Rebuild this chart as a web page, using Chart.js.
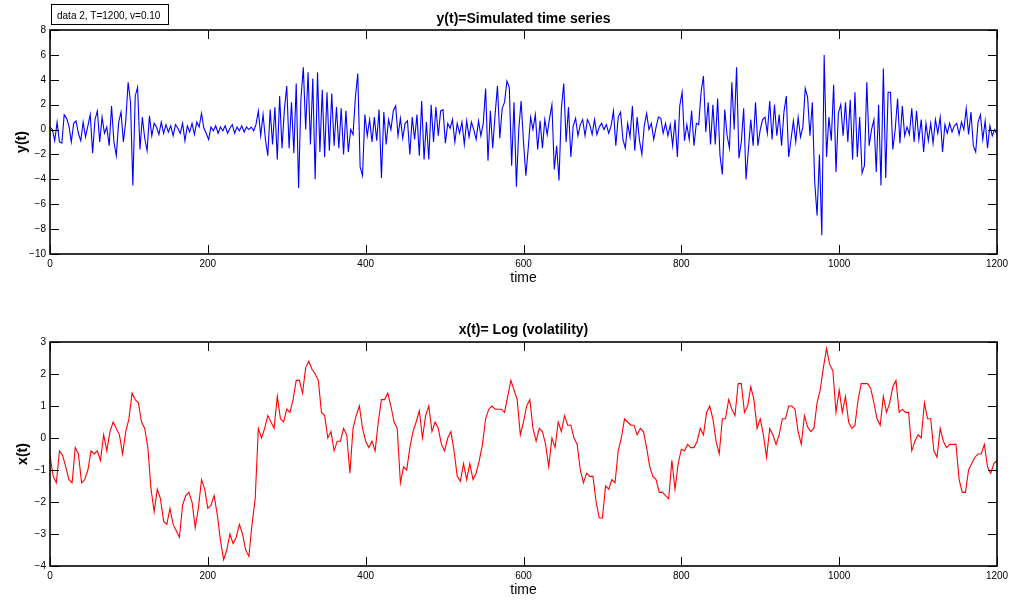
<!DOCTYPE html>
<html>
<head>
<meta charset="utf-8">
<script src="https://cdn.jsdelivr.net/npm/chart.js@4.4.1/dist/chart.umd.min.js"></script>
<style>
  body { margin: 0; background: #fff; }
  #wrap { position: relative; width: 1018px; height: 601px; }
  canvas { position: absolute; left: 0; }
</style>
</head>
<body>
<div id="wrap">
  <canvas id="topChart" width="1018" height="300" style="top:0px"></canvas>
  <canvas id="bottomChart" width="1018" height="301" style="top:300px"></canvas>
</div>
<script>
// sampling step (time units) of each series
const yStep = 3;
const xStep = 4;

// y(t) simulated returns, t = 0, 3, 6, ... 1200
const yValues = [
  0.2, 0.0, -0.9, 0.6, -1.0, -1.1, 1.2, 0.9, 0.3, -1.0,
  0.5, 0.7, -0.3, -0.9, 0.6, -0.6, 0.3, 1.2, -1.9, 0.8,
  1.5, -1.0, 1.0, -0.3, 0.2, -1.3, 1.9, -1.0, -2.1, 0.6,
  1.4, -1.0, 0.7, 3.8, 2.2, -4.5, 2.7, 3.4, -1.6, 1.0,
  -0.7, -1.7, 1.1, -0.5, 0.5, 0.2, -0.4, 0.6, -0.3, 0.4,
  -0.2, 0.3, -0.5, 0.4, 0.1, -0.3, 0.5, -0.9, 0.3, -0.2,
  0.5, -0.4, 0.6, 0.2, 1.3, 0.1, -0.3, -0.8, 0.2, -0.1,
  0.3, -0.3, 0.2, -0.1, 0.3, -0.3, 0.1, 0.4, -0.3, 0.2,
  -0.1, 0.3, -0.2, 0.2, 0.0, 0.2, -0.1, 0.4, 1.5, -0.5,
  1.2, -0.8, -2.1, 1.6, -1.2, 1.8, -2.4, 2.7, -1.5, 1.6,
  3.5, -1.5, 2.2, -1.9, 3.7, -4.7, 2.5, 5.0, 0.0, 4.6,
  -1.2, 4.1, -4.0, 4.6, -1.8, 3.2, -2.2, 3.0, -1.7, 2.9,
  -1.3, 1.8, -1.5, 1.7, -2.0, 1.5, -1.8, 0.0, -0.4, 2.6,
  4.5, -3.0, -3.7, 1.2, -0.5, 0.8, -1.0, 1.0, -0.9, 1.6,
  -3.9, 1.4, -1.2, 0.8, 0.0, 1.5, 1.9, -0.5, 0.9, -0.7,
  0.5, 0.7, -2.0, 1.0, -0.8, 1.2, -2.1, 2.3, -2.4, 0.6,
  -2.4, 2.0, -1.0, 1.8, -0.5, 1.5, 1.6, -1.1, 0.5, 0.1,
  0.8, -1.0, 0.5, -0.3, 0.6, -1.2, 0.7, -0.6, 0.6, 0.0,
  -0.8, 0.7, -0.5, 0.5, 3.3, -2.5, 1.5, -1.5, 1.2, 3.5,
  -0.7, 1.7, 2.2, 3.9, 3.4, -2.9, 2.2, -4.6, 0.0, 2.3,
  -1.0, -3.7, -1.5, 1.0, 0.0, 1.2, -1.6, 0.7, -1.5, 0.8,
  -0.4, 0.9, 2.0, -3.2, -1.3, -4.1, 1.7, 3.7, -1.0, 1.8,
  -2.2, 0.3, 0.9, -0.5, 0.4, 0.8, -0.5, 0.8, 0.4, -0.4,
  0.8, -0.4, 0.2, 0.5, 0.0, 0.4, -0.3, 0.3, 1.5, -1.3,
  1.0, 1.4, -0.8, -1.5, 0.5, -0.6, 1.9, -1.7, 1.0, -0.9,
  -2.0, 0.3, 1.3, 0.0, 0.5, -0.8, 0.2, 1.0, 0.9, -0.3,
  0.5, -0.5, 0.4, -1.3, 0.8, -2.2, 1.9, 3.0, -0.9, 0.4,
  -0.8, 1.5, -1.3, 0.5, 0.4, 3.0, 4.3, -0.2, 2.2, -1.2,
  2.0, -1.2, 2.5, -2.1, -3.6, 1.6, -0.5, -1.5, 3.8, 0.0,
  5.0, -2.3, -1.0, 1.7, -4.0, -1.6, 0.8, -1.3, 2.2, -1.3,
  0.0, 0.8, 1.0, -0.3, 2.3, -0.8, 2.0, -0.5, 1.2, -1.3,
  1.4, 2.7, -2.2, -0.8, 0.7, -1.0, 1.0, -0.6, 0.2, 3.3,
  2.6, -0.5, 2.2, -4.2, -6.9, -2.0, -8.5, 6.0, -2.2, 1.0,
  -0.9, 3.6, -3.4, 1.3, 2.0, -0.5, 2.2, -1.0, 2.4, -2.4,
  3.0, -2.2, 1.0, -3.5, -2.9, 3.8, -1.3, 0.0, 0.8, -3.4,
  2.0, -4.5, 4.9, -3.9, 3.0, 3.0, -1.6, 0.0, 2.5, -1.1,
  1.9, -0.5, 0.2, -0.4, 1.7, -1.0, 1.5, -0.8, 0.8, -1.8,
  0.5, -0.9, 0.5, -1.1, 0.8, -0.3, 1.0, -1.8, 0.4, -0.3,
  0.5, -0.2, 0.3, 0.5, -0.4, 0.6, 0.0, 1.7, -0.4, 1.4,
  -1.3, -1.8, 0.6, 1.2, -0.8, 0.7, -1.5, 0.3, -0.5, 0.0,
  -0.4
];

// x(t) log volatility, t = 0, 4, 8, ... 1200
const xValues = [
  -0.55, -1.2, -1.4, -0.4, -0.55, -0.9, -1.3, -1.4, -0.3, -0.5,
  -1.4, -1.3, -1.0, -0.4, -0.5, -0.4, -0.7, 0.1, -0.4, 0.2,
  0.5, 0.3, 0.1, -0.5, 0.2, 0.6, 1.4, 1.2, 1.1, 0.5,
  0.3, -0.3, -1.6, -2.3, -1.6, -1.9, -2.6, -2.7, -2.2, -2.7,
  -2.9, -3.1, -2.1, -1.8, -1.7, -2.0, -2.8, -2.2, -1.3, -1.6,
  -2.2, -2.1, -1.8, -2.4, -3.2, -3.8, -3.5, -3.0, -3.3, -3.1,
  -2.7, -3.0, -3.5, -3.7, -2.7, -1.9, 0.3, 0.0, 0.3, 0.7,
  0.5, 0.3, 1.3, 0.6, 0.5, 0.9, 0.8, 1.2, 1.8, 1.8,
  1.4, 2.2, 2.4, 2.15, 2.0, 1.8, 0.8, 0.7, 0.0, 0.2,
  -0.4, -0.1, -0.1, 0.3, 0.1, -1.1, 0.3, 0.7, 1.0,
  0.3, -0.1, -0.3, -0.1, -0.4, 0.5, 1.2, 1.2, 1.4, 1.0,
  0.5, 0.3, -1.4, -0.9, -1.0, -0.3, 0.2, 0.5, 0.85, 0.0,
  0.7, 1.0, 0.2, 0.5, 0.3, -0.2, -0.4, 0.0, 0.2, -0.4,
  -1.2, -1.35, -0.8, -1.3, -0.8, -1.3, -1.1, -0.7, -0.2, 0.6,
  0.9, 1.0, 0.9, 0.9, 0.9, 0.8, 1.3, 1.8, 1.5, 1.2,
  0.1, 0.5, 1.0, 1.2, 0.3, -0.1, 0.3, 0.2, -0.2, -0.9,
  0.0, -0.3, 0.5, 0.2, 0.7, 0.4, 0.4, 0.0, -0.2, -1.0,
  -1.4, -1.1, -1.2, -1.2, -2.0, -2.5, -2.5, -1.5, -1.6, -1.3,
  -1.4, -0.4, 0.0, 0.6, 0.5, 0.4, 0.4, 0.1, 0.3, 0.2,
  -0.3, -0.9, -1.2, -1.3, -1.7,
  -1.7, -1.8, -1.9, -0.7, -1.6, -0.8, -0.35, -0.4, -0.2, -0.3,
  -0.3, -0.1, 0.3, 0.1, 0.8, 1.0, 0.6, -0.1, -0.5, 0.6,
  0.6, 1.2, 0.9, 0.7, 1.7, 1.7, 0.8, 1.0, 1.6, 1.2,
  0.3, 0.6, 0.1, -0.6, 0.3, 0.1, -0.2, 0.1, 0.6, 0.6,
  1.0, 1.0, 0.9, 0.2, -0.2, 0.7, 0.35, 0.2, 0.3, 1.1,
  1.5, 2.2, 2.8, 2.3, 2.1, 0.8, 1.5, 0.8, 1.3, 0.5,
  0.3, 0.4, 1.2, 1.7, 1.7, 1.7, 1.55, 1.1, 0.6, 0.4,
  1.3, 0.8, 1.1, 1.6, 1.8, 0.8, 0.9, 0.8, 0.8, -0.4,
  -0.1, 0.1, 0.0, 1.1, 0.6, 0.6, -0.4, -0.6, 0.3, -0.1,
  -0.3, -0.2, -0.2, -0.2, -1.3, -1.7, -1.7, -1.0, -0.8, -0.6,
  -0.5, -0.5, -0.2, -0.9, -1.1, -0.8, -0.7
];

const timeTicks = [0, 200, 400, 600, 800, 1000, 1200];
const yTicksTop = [-10, -8, -6, -4, -2, 0, 2, 4, 6, 8];
const yTicksBottom = [-4, -3, -2, -1, 0, 1, 2, 3];

const FONT = '"Liberation Sans", Arial, Helvetica, sans-serif';

function toPoints(values, step) {
  return values.map((v, i) => ({ x: i * step, y: v }));
}

function minusLabel(v) {
  return v < 0 ? '\u2212' + Math.abs(v) : String(v);
}

// matlab style box: frame, inward ticks on all four sides, titles and labels
const matlabFrame = {
  id: 'matlabFrame',
  afterDraw(chart, args, opts) {
    const { ctx, chartArea: a, scales } = chart;
    const tl = 9;
    ctx.save();
    ctx.strokeStyle = '#000';
    ctx.lineWidth = 1;
    ctx.beginPath();
    scales.x.ticks.forEach(t => {
      const px = Math.round(scales.x.getPixelForValue(t.value)) + 0.5;
      ctx.moveTo(px, a.bottom); ctx.lineTo(px, a.bottom - tl);
      ctx.moveTo(px, a.top); ctx.lineTo(px, a.top + tl);
    });
    scales.y.ticks.forEach(t => {
      const py = Math.round(scales.y.getPixelForValue(t.value)) + 0.5;
      ctx.moveTo(a.left, py); ctx.lineTo(a.left + tl, py);
      ctx.moveTo(a.right, py); ctx.lineTo(a.right - tl, py);
    });
    ctx.stroke();
    ctx.lineWidth = 1.6;
    ctx.strokeRect(a.left, a.top, a.right - a.left, a.bottom - a.top);

    ctx.fillStyle = '#000';
    ctx.textAlign = 'center';
    ctx.textBaseline = 'alphabetic';
    const cx = (a.left + a.right) / 2;
    ctx.font = 'bold 14px ' + FONT;
    ctx.fillText(opts.title, cx, opts.titleY);
    ctx.font = '14px ' + FONT;
    ctx.fillText('time', cx, opts.xLabelY);

    ctx.save();
    ctx.translate(opts.yLabelX, (a.top + a.bottom) / 2);
    ctx.rotate(-Math.PI / 2);
    ctx.font = 'bold 14px ' + FONT;
    ctx.textBaseline = 'middle';
    ctx.fillText(opts.yLabel, 0, 0);
    ctx.restore();

    if (opts.legend) {
      ctx.lineWidth = 1;
      ctx.strokeRect(51.5, 4.5, 117, 20);
      ctx.font = '10px ' + FONT;
      ctx.textAlign = 'left';
      ctx.fillText(opts.legend, 57, 18.5);
    }
    ctx.restore();
  }
};

function makeChart(id, values, step, color, yMin, yMax, yTicks, pad, xHeight, frame) {
  return new Chart(document.getElementById(id), {
    type: 'line',
    data: {
      datasets: [{
        data: toPoints(values, step),
        borderColor: color,
        borderWidth: 1.1,
        pointRadius: 0,
        tension: 0,
        fill: false
      }]
    },
    options: {
      responsive: false,
      animation: false,
      devicePixelRatio: 1,
      layout: { padding: pad },
      plugins: {
        legend: { display: false },
        tooltip: { enabled: false },
        matlabFrame: frame
      },
      scales: {
        x: {
          type: 'linear',
          min: 0,
          max: 1200,
          afterFit: s => { s.height = xHeight; },
          afterBuildTicks: s => { s.ticks = timeTicks.map(v => ({ value: v })); },
          grid: { display: false, drawTicks: false },
          border: { display: false },
          ticks: { color: '#000', padding: 4, font: { family: FONT, size: 10 }, maxRotation: 0,
                   callback: v => String(v) }
        },
        y: {
          min: yMin,
          max: yMax,
          afterFit: s => { s.width = 50; },
          afterBuildTicks: s => { s.ticks = yTicks.map(v => ({ value: v })); },
          grid: { display: false, drawTicks: false },
          border: { display: false },
          ticks: { color: '#000', padding: 4, font: { family: FONT, size: 10 }, callback: minusLabel }
        }
      }
    },
    plugins: [matlabFrame]
  });
}

makeChart('topChart', yValues, yStep, '#0000ff', -10, 8, yTicksTop,
  { top: 30, left: 0, right: 21, bottom: 0 }, 46,
  { title: 'y(t)=Simulated time series', titleY: 23, xLabelY: 282, yLabel: 'y(t)', yLabelX: 22,
    legend: 'data 2, T=1200, v=0.10' });

makeChart('bottomChart', xValues, xStep, '#ff0000', -4, 3, yTicksBottom,
  { top: 42, left: 0, right: 21, bottom: 0 }, 35,
  { title: 'x(t)= Log (volatility)', titleY: 34, xLabelY: 294, yLabel: 'x(t)', yLabelX: 23 });
</script>
</body>
</html>
